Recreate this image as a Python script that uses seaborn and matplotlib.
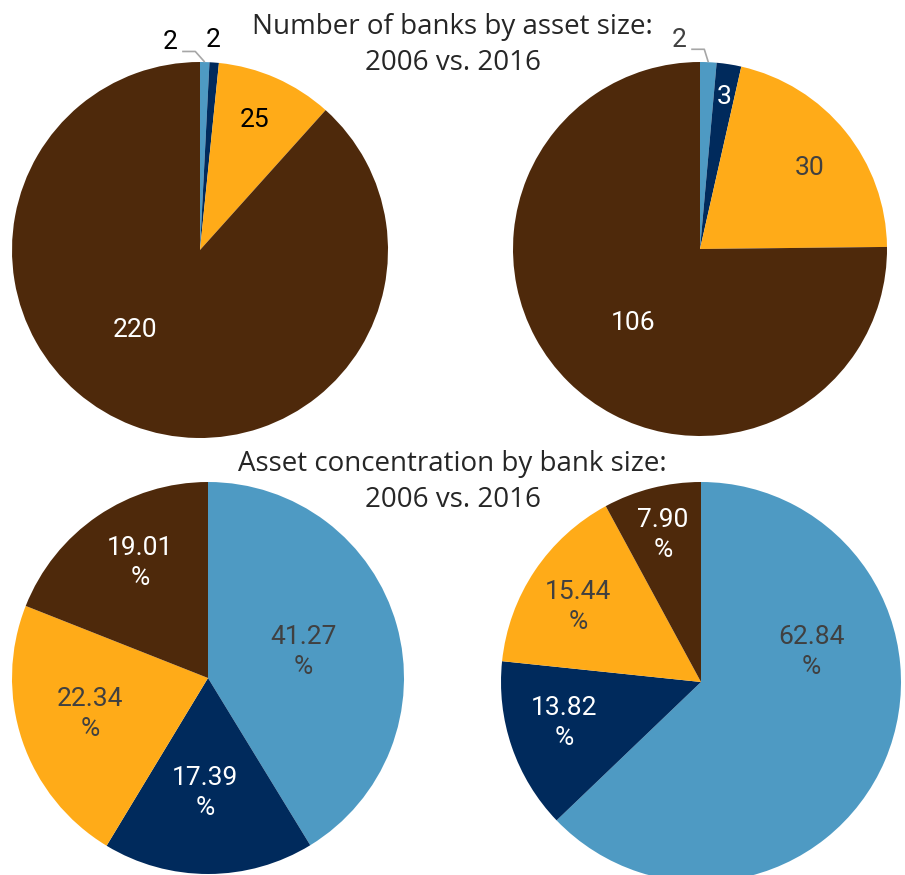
import matplotlib
matplotlib.use("Agg")
import matplotlib.pyplot as plt
import seaborn as sns
import numpy as np

sns.set_theme(style="white")
plt.rcParams['font.family'] = ['Roboto', 'DejaVu Sans']

# ---- data ----
categories = ["Largest", "Large", "Mid", "Small"]
banks_2006 = [2, 2, 25, 220]
banks_2016 = [2, 3, 30, 106]
assets_2006 = [41.27, 17.39, 22.34, 19.01]
assets_2016 = [62.84, 13.82, 15.44, 7.90]
title_top = "Number of banks by asset size:\n2006 vs. 2016"
title_bottom = "Asset concentration by bank size:\n2006 vs. 2016"

palette = sns.color_palette(["#4E9AC3", "#002A5C", "#FFAB18", "#4E290B"])

W, H = 905, 875
fig = plt.figure(figsize=(W / 100, H / 100), dpi=100)

# layout: (cx, cy, r) in pixels; label offsets in radius units; label colours
layouts = [
    (200, 250, 188, [(-0.16, 1.106), (0.069, 1.117), (0.29, 0.69), (-0.346, -0.426)],
     ["black", "black", "black", "white"]),
    (700, 249, 187, [(-0.112, 1.118), (0.128, 0.813), (0.588, 0.433), (-0.358, -0.396)],
     ["#404040", "white", "#404040", "white"]),
    (208, 678, 196, [(0.485, 0.133), (-0.015, -0.587), (-0.602, -0.184), (-0.347, 0.587)],
     ["#404040", "white", "#404040", "white"]),
    (701, 682, 200, [(0.55, 0.15), (-0.685, -0.205), (-0.615, 0.375), (-0.19, 0.735)],
     ["#404040", "white", "#404040", "white"]),
]
series = [banks_2006, banks_2016, assets_2006, assets_2016]
is_pct = [False, False, True, True]

for (cx, cy, r, offs, cols), vals, pct in zip(layouts, series, is_pct):
    ax = fig.add_axes([(cx - r) / W, (H - (cy + r)) / H, 2 * r / W, 2 * r / H])
    wedges, _ = ax.pie(vals, colors=palette, startangle=90, counterclock=False,
                       radius=1, wedgeprops=dict(linewidth=0))
    ax.set_xlim(-1, 1)
    ax.set_ylim(-1, 1)
    ax.set_aspect("equal")
    ax.axis("off")
    for v, (ox, oy), col in zip(vals, offs, cols):
        txt = f"{v:.2f}\n%" if pct else f"{v:d}"
        ax.text(ox, oy, txt, ha="center", va="center", fontsize=19, color=col,
                linespacing=1.3, clip_on=False)
    # leader line for the smallest (outside) label
    if not pct:
        ox, oy = offs[0]
        th1 = 90 - vals[0] / sum(vals) * 360 / 2
        tx, ty = np.cos(np.radians(th1)), np.sin(np.radians(th1))
        x0 = ox + 0.065
        ax.plot([x0, x0 + 0.07, tx], [oy - 0.05, oy - 0.05, ty], color="#A6A6A6",
                lw=1.2, clip_on=False, solid_capstyle="butt")

fig.text(0.5, 1 - 45 / H, title_top, ha="center", va="center", fontsize=20,
         color="#262626", linespacing=1.35, family=["Open Sans", "DejaVu Sans"])
fig.text(0.5, 1 - 482 / H, title_bottom, ha="center", va="center", fontsize=20,
         color="#262626", linespacing=1.35, family=["Open Sans", "DejaVu Sans"])

fig.savefig("out.png", dpi=100)
